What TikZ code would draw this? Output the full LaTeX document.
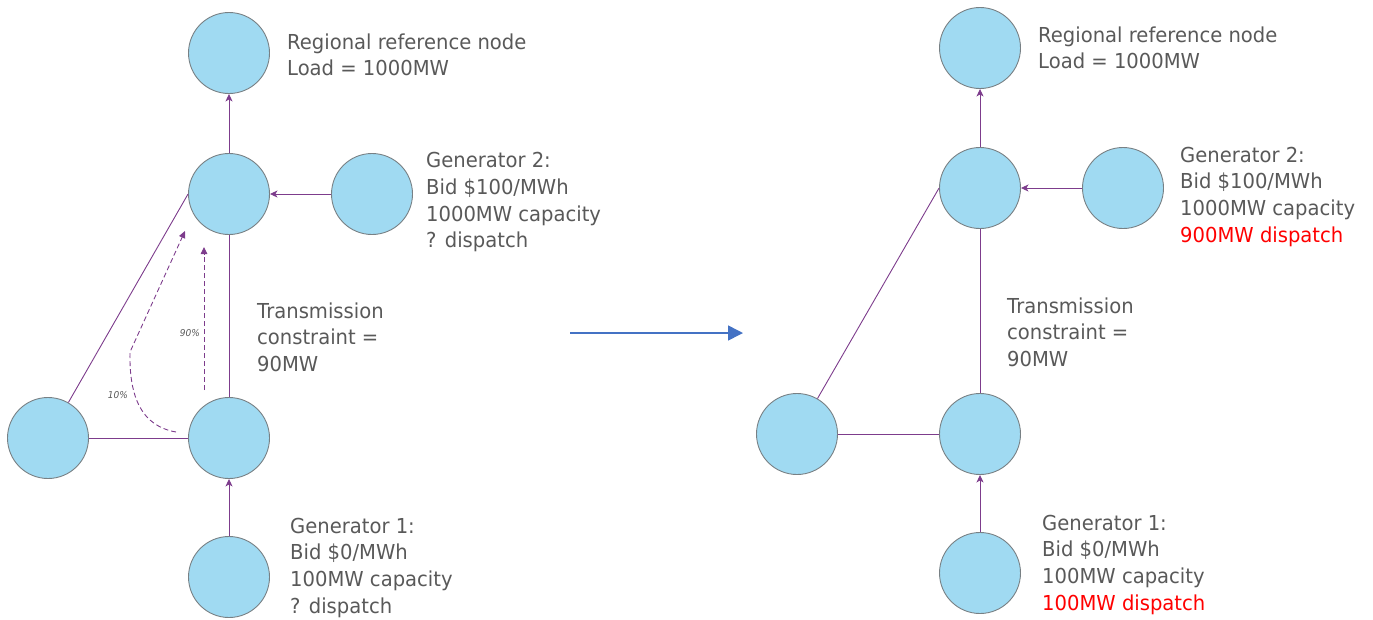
\documentclass[tikz,border=0pt]{standalone}
\usepackage{fontspec}
\setmainfont[FakeStretch=0.95]{DejaVu Sans}
\usetikzlibrary{arrows.meta}
\definecolor{nodefill}{RGB}{160,218,242}
\definecolor{nodeline}{RGB}{120,128,132}
\definecolor{flow}{RGB}{125,60,140}
\definecolor{txt}{RGB}{89,89,89}
\definecolor{arrowblue}{RGB}{68,114,196}
\definecolor{hot}{RGB}{255,0,0}
\begin{document}
\begin{tikzpicture}[x=1pt,y=-1pt,
 bus/.style={circle, draw=nodeline, line width=0.9pt, fill=nodefill, minimum size=81pt, inner sep=0pt},
 info/.style={anchor=north west, inner sep=0pt, align=left, text=txt, font=\fontsize{20.6}{26.7}\selectfont},
 link/.style={draw=flow, line width=0.9pt},
 flowarrow/.style={link, -{Stealth[length=7.5pt,width=7pt,inset=2pt]}},
 share/.style={draw=flow, line width=0.9pt, dash pattern=on 5pt off 3pt, -{Triangle[length=7pt,width=6.5pt]}},
 pct/.style={text=txt, font=\itshape\fontsize{9.5}{11}\selectfont, inner sep=0pt},
 bigarrow/.style={draw=arrowblue, line width=1.5pt, -{Triangle[length=15pt,width=15pt]}},
]
\useasboundingbox (0,0) rectangle (1373,619);

% ---------- left diagram ----------
\node[bus] (LRef) at (229,53) {};
\node[bus] (LB) at (229,194) {};
\node[bus] (LG2) at (372,194) {};
\node[bus] (LC) at (229,438) {};
\node[bus] (LD) at (48,438) {};
\node[bus] (LG1) at (229,577) {};

\draw[flowarrow] (LB) -- (LRef);
\draw[flowarrow] (LG2) -- (LB);
\draw[link] (LB) -- (LC);
\draw[link] (LD) -- (LC);
\draw[link] (LD) -- (LB.west);
\draw[flowarrow] (LG1) -- (LC);

\coordinate (s90) at (204,390);
\coordinate (e90) at (204,247);
\draw[share] (s90) -- (e90);
\coordinate (s10) at (176,432);
\coordinate (k10) at (130,352);
\coordinate (e10) at (185,231);
\draw[share] (s10) .. controls (142,426) and (129,398) .. (k10) -- (e10);
\node[pct] (l90) at (190,333) {90\%};
\node[pct] (l10) at (118,395) {10\%};

\node[info] (LRefT) at (287,29) {\rule{0pt}{20pt}Regional reference node\\Load = 1000MW};
\node[info] (LG2T) at (426,147.5) {\rule{0pt}{20pt}Generator 2:\\Bid \$100/MWh\\1000MW capacity\\? dispatch};
\node[info] (LTrT) at (257,298) {\rule{0pt}{20pt}Transmission\\constraint =\\90MW};
\node[info] (LG1T) at (290,513) {\rule{0pt}{20pt}Generator 1:\\Bid \$0/MWh\\100MW capacity\\? dispatch};

% ---------- middle arrow ----------
\coordinate (ma) at (570,333);
\coordinate (mb) at (743,333);
\draw[bigarrow] (ma) -- (mb);

% ---------- right diagram ----------
\node[bus] (RRef) at (980,48) {};
\node[bus] (RB) at (980,188) {};
\node[bus] (RG2) at (1123,188) {};
\node[bus] (RC) at (980,434) {};
\node[bus] (RD) at (797,434) {};
\node[bus] (RG1) at (980,573) {};

\draw[flowarrow] (RB) -- (RRef);
\draw[flowarrow] (RG2) -- (RB);
\draw[link] (RB) -- (RC);
\draw[link] (RD) -- (RC);
\draw[link] (RD) -- (RB.west);
\draw[flowarrow] (RG1) -- (RC);

\node[info] (RRefT) at (1038,22) {\rule{0pt}{20pt}Regional reference node\\Load = 1000MW};
\node[info] (RG2T) at (1180,142) {\rule{0pt}{20pt}Generator 2:\\Bid \$100/MWh\\1000MW capacity\\\textcolor{hot}{900MW dispatch}};
\node[info] (RTrT) at (1007,293) {\rule{0pt}{20pt}Transmission\\constraint =\\90MW};
\node[info] (RG1T) at (1042,510) {\rule{0pt}{20pt}Generator 1:\\Bid \$0/MWh\\100MW capacity\\\textcolor{hot}{100MW dispatch}};
\end{tikzpicture}
\end{document}
